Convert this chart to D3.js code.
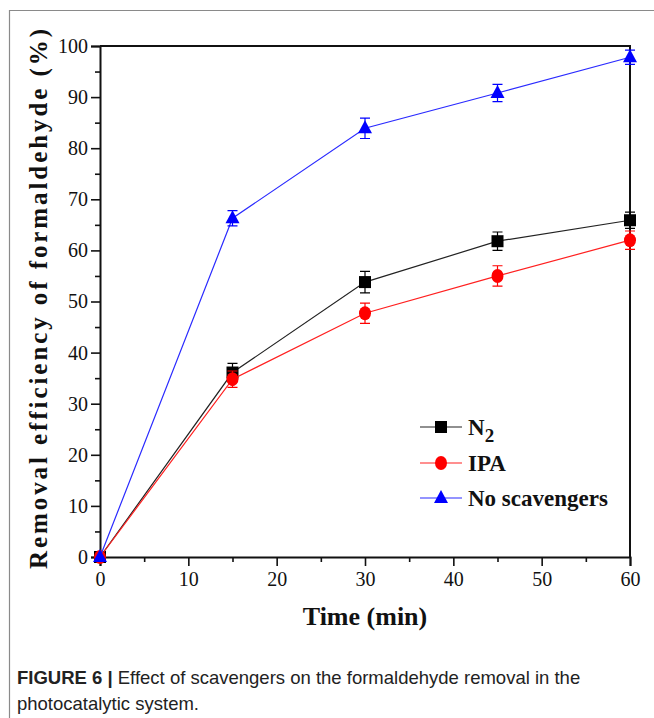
<!DOCTYPE html>
<html>
<head>
<meta charset="utf-8">
<script src="https://cdn.jsdelivr.net/npm/d3@7"></script>
<style>
  body { margin: 0; background: #fff; }
  svg { display: block; }
</style>
</head>
<body>
<div id="chart"></div>
<script>
// data
const times = [0, 15, 30, 45, 60];
const n2Values = [0, 36.1, 53.8, 61.8, 65.9];
const n2Errors = [0, 1.8, 2.1, 1.8, 1.6];
const ipaValues = [0, 34.8, 47.7, 55.0, 62.0];
const ipaErrors = [0, 1.6, 2.0, 2.0, 1.8];
const noScavValues = [0, 66.3, 83.9, 90.8, 97.8];
const noScavErrors = [0, 1.5, 2.0, 1.7, 1.4];
const xTicks = [0, 10, 20, 30, 40, 50, 60];
const yTicks = [0, 10, 20, 30, 40, 50, 60, 70, 80, 90, 100];

const W = 654, H = 718;
const margin = { top: 46, right: 24, bottom: 161, left: 100 };
const width = W - margin.left - margin.right;
const height = H - margin.top - margin.bottom;

const svg = d3.select("#chart").append("svg")
  .attr("width", W)
  .attr("height", H);

// figure frame (top + left grey rules)
svg.append("line").attr("x1", 9).attr("x2", W).attr("y1", 10.5).attr("y2", 10.5)
  .attr("stroke", "#8a8a8a").attr("stroke-width", 1.2);
svg.append("line").attr("x1", 9.5).attr("x2", 9.5).attr("y1", 10).attr("y2", H)
  .attr("stroke", "#8a8a8a").attr("stroke-width", 1.2);

const g = svg.append("g")
  .attr("transform", "translate(" + margin.left + "," + margin.top + ")");

const x = d3.scaleLinear().domain([0, 60]).range([0, width]);
const y = d3.scaleLinear().domain([0, 100]).range([height, 0]);

// box top + right
g.append("path")
  .attr("d", "M0,0H" + width + "V" + height)
  .attr("fill", "none").attr("stroke", "#111").attr("stroke-width", 2);

// minor ticks
const xAxisMinor = d3.axisBottom(x).tickValues(d3.range(5, 60, 10)).tickSize(5).tickFormat("");
const yAxisMinor = d3.axisLeft(y).tickValues(d3.range(5, 100, 10)).tickSize(5).tickFormat("");

const xa = g.append("g")
  .attr("transform", "translate(0," + height + ")")
  .call(d3.axisBottom(x).tickValues(xTicks).tickSize(9).tickPadding(6).tickFormat(d3.format("d")));
const xm = g.append("g")
  .attr("transform", "translate(0," + height + ")")
  .call(xAxisMinor);
const ya = g.append("g")
  .call(d3.axisLeft(y).tickValues(yTicks).tickSize(9).tickPadding(3).tickFormat(d3.format("d")));
const ym = g.append("g").call(yAxisMinor);

[xa, ya, xm, ym].forEach(a => {
  a.select(".domain").attr("stroke", "#111").attr("stroke-width", 2);
  a.selectAll(".tick line").attr("stroke", "#111").attr("stroke-width", 1.6);
  a.selectAll("text")
    .attr("fill", "#111")
    .style("font-family", "'Liberation Serif', 'Times New Roman', serif")
    .style("font-size", "20px");
});
xm.select(".domain").remove();
ym.select(".domain").remove();

// axis titles
g.append("text")
  .attr("x", width / 2)
  .attr("y", height + 68)
  .attr("text-anchor", "middle")
  .style("font-family", "'Liberation Serif', 'Times New Roman', serif")
  .style("font-weight", "bold")
  .style("font-size", "26px")
  .attr("fill", "#111")
  .text("Time (min)");

svg.append("text")
  .attr("transform", "translate(47,299) rotate(-90)")
  .attr("text-anchor", "middle")
  .attr("textLength", 540)
  .attr("lengthAdjust", "spacing")
  .style("font-family", "'Liberation Serif', 'Times New Roman', serif")
  .style("font-weight", "bold")
  .style("font-size", "25px")
  .attr("fill", "#111")
  .text("Removal efficiency of formaldehyde (%)");

const series = [
  { name: "N2", values: n2Values, errors: n2Errors, color: "#000000", line: "#222", shape: "square" },
  { name: "IPA", values: ipaValues, errors: ipaErrors, color: "#ff0000", line: "#ff2020", shape: "circle" },
  { name: "No scavengers", values: noScavValues, errors: noScavErrors, color: "#0000ff", line: "#2a2aff", shape: "triangle" }
];

const line = d3.line()
  .x(d => x(d.t))
  .y(d => y(d.v));

function drawMarker(sel, s, cx, cy) {
  if (s.shape === "square") {
    sel.append("rect").attr("x", cx - 6).attr("y", cy - 6).attr("width", 12).attr("height", 12)
      .attr("fill", s.color);
  } else if (s.shape === "circle") {
    sel.append("ellipse").attr("cx", cx).attr("cy", cy).attr("rx", 6).attr("ry", 7)
      .attr("fill", s.color);
  } else {
    sel.append("path")
      .attr("d", "M" + cx + "," + (cy - 8) + "L" + (cx + 7) + "," + (cy + 5) + "L" + (cx - 7) + "," + (cy + 5) + "Z")
      .attr("fill", s.color);
  }
}

series.forEach(s => {
  const pts = times.map((t, i) => ({ t: t, v: s.values[i], e: s.errors[i] }));
  g.append("path")
    .datum(pts)
    .attr("fill", "none")
    .attr("stroke", s.line)
    .attr("stroke-width", 1.2)
    .attr("d", line);

  const eb = g.append("g");
  pts.filter(p => p.e > 0).forEach(p => {
    const cx = x(p.t);
    eb.append("path")
      .attr("d", "M" + cx + "," + y(p.v + p.e) + "V" + y(p.v - p.e) +
        "M" + (cx - 5) + "," + y(p.v + p.e) + "H" + (cx + 5) +
        "M" + (cx - 5) + "," + y(p.v - p.e) + "H" + (cx + 5))
      .attr("stroke", s.color)
      .attr("stroke-width", 1.2)
      .attr("fill", "none");
  });

  const mk = g.append("g");
  pts.forEach(p => drawMarker(mk, s, x(p.t), y(p.v)));
});

// legend
const legend = svg.append("g");
const legendRows = [427, 463, 498];
series.forEach((s, i) => {
  const ly = legendRows[i];
  legend.append("line")
    .attr("x1", 420).attr("x2", 462).attr("y1", ly).attr("y2", ly)
    .attr("stroke", s.line).attr("stroke-width", 1.2);
  drawMarker(legend, s, 441, ly);
  const t = legend.append("text")
    .attr("x", 468)
    .attr("y", ly + 8)
    .style("font-family", "'Liberation Serif', 'Times New Roman', serif")
    .style("font-weight", "bold")
    .style("font-size", "23px")
    .attr("fill", "#111");
  if (s.name === "N2") {
    t.append("tspan").text("N");
    t.append("tspan").attr("dy", 7).style("font-size", "19px").text("2");
  } else {
    t.text(s.name);
  }
});

// caption
const cap = svg.append("g")
  .style("font-family", "'Liberation Sans', Arial, sans-serif")
  .style("font-size", "18.5px")
  .attr("fill", "#222");
const c1 = cap.append("text").attr("x", 17).attr("y", 684);
c1.append("tspan").style("font-weight", "bold").text("FIGURE 6 | ");
c1.append("tspan").text("Effect of scavengers on the formaldehyde removal in the");
cap.append("text").attr("x", 17).attr("y", 710).text("photocatalytic system.");
</script>
</body>
</html>
